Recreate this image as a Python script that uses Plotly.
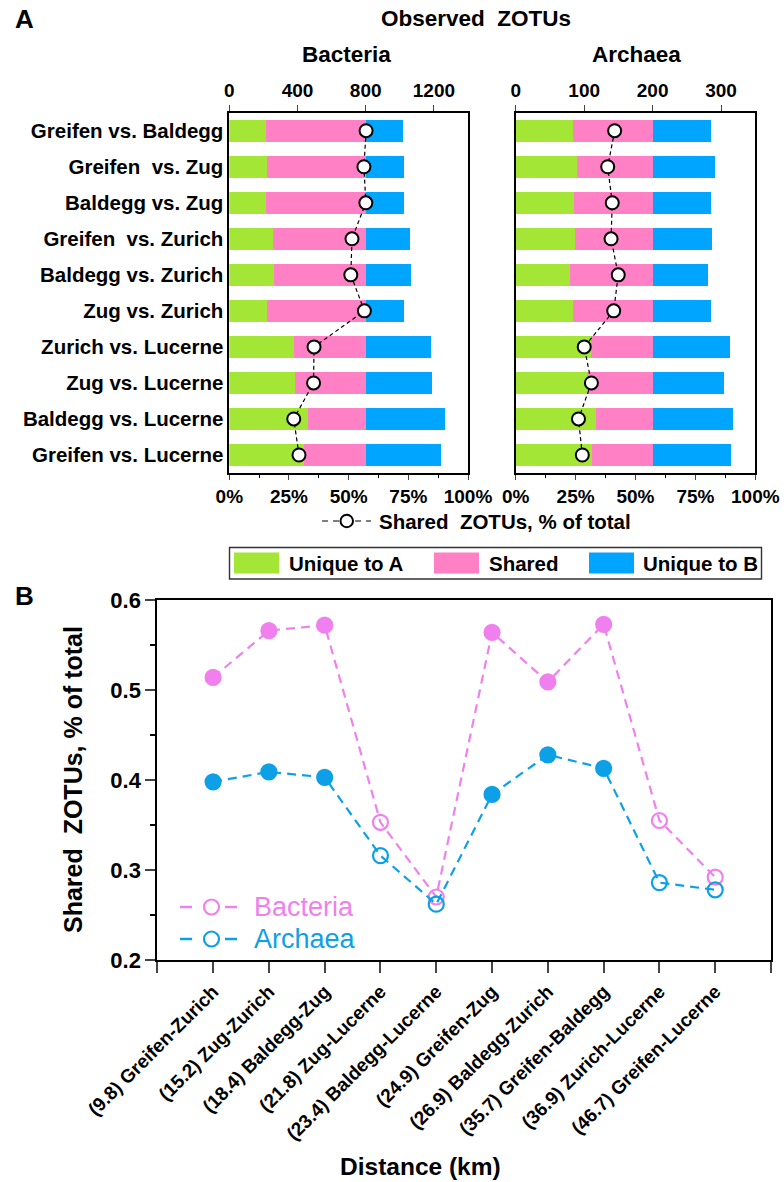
import plotly.graph_objects as go

W, H = 784, 1182

# ---------------- data ----------------
pairs_A = ["Greifen vs. Baldegg", "Greifen\u00a0 vs. Zug", "Baldegg vs. Zug",
           "Greifen\u00a0 vs. Zurich", "Baldegg vs. Zurich", "Zug vs. Zurich",
           "Zurich vs. Lucerne", "Zug vs. Lucerne", "Baldegg vs. Lucerne",
           "Greifen vs. Lucerne"]

# Observed ZOTUs (counts) per pair
bac_uniqueA = [215, 223, 215, 254, 260, 221, 379, 383, 463, 441]
bac_shared = [585, 577, 585, 546, 540, 579, 421, 417, 337, 359]
bac_uniqueB = [221, 227, 223, 262, 264, 227, 383, 387, 467, 444]

arc_uniqueA = [83, 89, 85, 86, 80, 84, 110, 104, 117, 112]
arc_shared = [117, 111, 115, 114, 120, 116, 90, 96, 83, 88]
arc_uniqueB = [85, 91, 86, 87, 81, 85, 113, 105, 118, 114]

# Panel B: pairs ordered by distance
dist_labels = ["(9.8) Greifen-Zurich", "(15.2) Zug-Zurich", "(18.4) Baldegg-Zug",
               "(21.8) Zug-Lucerne", "(23.4) Baldegg-Lucerne", "(24.9) Greifen-Zug",
               "(26.9) Baldegg-Zurich", "(35.7) Greifen-Baldegg", "(36.9) Zurich-Lucerne",
               "(46.7) Greifen-Lucerne"]
bac_frac = [0.514, 0.566, 0.572, 0.353, 0.270, 0.564, 0.509, 0.573, 0.355, 0.292]
arc_frac = [0.398, 0.409, 0.403, 0.316, 0.262, 0.384, 0.428, 0.413, 0.286, 0.278]

# index into panel-B order for each panel-A row
a_to_b = [7, 5, 2, 0, 6, 1, 8, 3, 4, 9]

bac_count_ticks = [0, 400, 800, 1200]
arc_count_ticks = [0, 100, 200, 300]
pct_ticks = [0, 25, 50, 75, 100]
pct_text = ["0%", "25%", "50%", "75%", "100%"]
fracB_ticks = [0.2, 0.3, 0.4, 0.5, 0.6]

# ---------------- style ----------------
GREEN = "#A3E635"
PINK = "#FF80C5"
BLUE = "#00A5FF"
VIOLET = "#F080EE"
SKY = "#0EA0E6"
FONT = "Liberation Sans, Arial, sans-serif"


def px(x):
    return x / W


def py(y):
    return 1 - y / H


bac_pct_A = [bac_frac[i] * 100 for i in a_to_b]
arc_pct_A = [arc_frac[i] * 100 for i in a_to_b]

fig = go.Figure()

# Panel A bars
for (xa, ya, uA, sh, uB) in [("x", "y", bac_uniqueA, bac_shared, bac_uniqueB),
                             ("x3", "y2", arc_uniqueA, arc_shared, arc_uniqueB)]:
    for vals, col in [(uA, GREEN), (sh, PINK), (uB, BLUE)]:
        fig.add_trace(go.Bar(y=pairs_A, x=vals, orientation="h", width=0.61,
                             marker=dict(color=col, line=dict(width=0)),
                             xaxis=xa, yaxis=ya, showlegend=False))

for (xa, ya, vals) in [("x2", "y", bac_pct_A), ("x4", "y2", arc_pct_A)]:
    fig.add_trace(go.Scatter(y=pairs_A, x=vals, mode="lines+markers",
                             line=dict(color="black", width=1.2, dash="4px,3px"),
                             marker=dict(size=13, color="white",
                                         line=dict(color="black", width=2)),
                             xaxis=xa, yaxis=ya, showlegend=False))

# Panel B
xpos = list(range(1, len(dist_labels) + 1))
symbols = ["circle-open" if "Lucerne" in s else "circle" for s in dist_labels]
for vals, col in [(bac_frac, VIOLET), (arc_frac, SKY)]:
    fig.add_trace(go.Scatter(x=xpos, y=vals, mode="lines+markers",
                             line=dict(color=col, width=2.2, dash="9px,6px"),
                             marker=dict(size=15, symbol=symbols, color=col,
                                         line=dict(color=col, width=2.2)),
                             xaxis="x5", yaxis="y3", showlegend=False))

# ---------------- axes ----------------
bx = [px(229.3), px(468)]
ax_ = [px(515.7), px(755.3)]
ay = [py(473), py(112.7)]

tickfA = dict(family=FONT, size=19, color="black", weight="bold")
line_kw = dict(showline=True, linecolor="black", linewidth=1.6, showgrid=False,
               zeroline=False, automargin=False)
minor_pct = dict(tickvals=[12.5, 37.5, 62.5, 87.5], ticks="outside",
                 ticklen=3, tickwidth=1.2, tickcolor="black")

fig.update_layout(
    xaxis=dict(domain=bx, anchor="y", side="top", range=[0, 1400],
               tickvals=bac_count_ticks, ticks="outside", ticklen=6, tickwidth=1.4,
               tickfont=tickfA, **line_kw),
    xaxis2=dict(domain=bx, anchor="y", overlaying="x", side="bottom", range=[0, 100],
                tickvals=pct_ticks, ticktext=pct_text, ticks="outside", ticklen=5,
                tickwidth=1.4, tickfont=tickfA, minor=minor_pct, **line_kw),
    yaxis=dict(domain=ay, anchor="x", type="category", categoryarray=pairs_A,
               range=[9.5, -0.5], ticks="", mirror=True,
               tickfont=dict(family=FONT, size=20.5, color="black", weight="bold"),
               **line_kw),
    xaxis3=dict(domain=ax_, anchor="y2", side="top", range=[0, 350],
                tickvals=arc_count_ticks, ticks="outside", ticklen=6, tickwidth=1.4,
                tickfont=tickfA, **line_kw),
    xaxis4=dict(domain=ax_, anchor="y2", overlaying="x3", side="bottom", range=[0, 100],
                tickvals=pct_ticks, ticktext=pct_text, ticks="outside", ticklen=5,
                tickwidth=1.4, tickfont=tickfA, minor=minor_pct, **line_kw),
    yaxis2=dict(domain=ay, anchor="x3", type="category", categoryarray=pairs_A,
                range=[9.5, -0.5], ticks="", mirror=True, showticklabels=False,
                **line_kw),
    xaxis5=dict(domain=[px(157.3), px(771)], anchor="y3", range=[0, 11],
                tickvals=list(range(0, 12)),
                ticktext=[""] + dist_labels + [""],
                tickangle=-45, ticks="outside", ticklen=11, tickwidth=1.8,
                mirror=True, showline=True, linecolor="black", linewidth=2,
                showgrid=False, zeroline=False, automargin=False,
                tickfont=dict(family=FONT, size=19, color="black", weight="bold")),
    yaxis3=dict(domain=[py(960), py(600)], anchor="x5", range=[0.2, 0.6],
                tickvals=fracB_ticks, tickformat=".1f", ticks="outside", ticklen=10,
                tickwidth=1.8, mirror=True, showline=True, linecolor="black",
                linewidth=2, showgrid=False, zeroline=False, automargin=False,
                minor=dict(tickvals=[0.25, 0.35, 0.45, 0.55], ticks="outside",
                           ticklen=5, tickwidth=1.6, tickcolor="black"),
                tickfont=dict(family=FONT, size=22, color="black", weight="bold")),
    barmode="stack",
    width=W, height=H,
    margin=dict(l=0, r=0, t=0, b=0, autoexpand=False),
    paper_bgcolor="white", plot_bgcolor="white",
    showlegend=False,
)

# ---------------- annotations ----------------
def ann(text, x, y, size, xanchor="center", color="black", bold=True, angle=0):
    fig.add_annotation(text=text, x=px(x), y=py(y), xref="paper", yref="paper",
                       showarrow=False, xanchor=xanchor, yanchor="middle",
                       textangle=angle,
                       font=dict(family=FONT, size=size, color=color,
                                 weight="bold" if bold else "normal"))


ann("A", 13, 19, 26, xanchor="left")
ann("B", 13, 596, 26, xanchor="left")
ann("Observed\u00a0 ZOTUs", 476, 18, 22.5)
ann("Bacteria", 346, 54, 22.5)
ann("Archaea", 636, 54, 22.5)
ann("Shared\u00a0 ZOTUs, % of total", 377, 521, 20.5, xanchor="left")
ann("Shared\u00a0 ZOTUs, % of total", 73, 780, 25, angle=-90)
ann("Distance (km)", 420, 1166, 24.5)

shapes = []
# "Shared ZOTUs" legend symbol
shapes.append(dict(type="line", xref="paper", yref="paper", x0=px(322), x1=px(371),
                   y0=py(521), y1=py(521), line=dict(color="black", width=1.2, dash="6px,5px")))
shapes.append(dict(type="circle", xref="paper", yref="paper", x0=px(340.5), x1=px(353),
                   y0=py(527.2), y1=py(514.8), fillcolor="white",
                   line=dict(color="black", width=2)))

# Bar legend box
shapes.append(dict(type="rect", xref="paper", yref="paper", x0=px(229.5), x1=px(761.5),
                   y0=py(579), y1=py(547.5), line=dict(color="#333333", width=1.4)))
for (x0, x1, col, label, tx) in [(234, 279, GREEN, "Unique to A", 287),
                                 (434, 479, PINK, "Shared", 487),
                                 (589, 634, BLUE, "Unique to B", 641)]:
    shapes.append(dict(type="rect", xref="paper", yref="paper", x0=px(x0), x1=px(x1),
                       y0=py(573.5), y1=py(552.5), fillcolor=col, line=dict(width=0)))
    ann(label, tx, 563.5, 20.5, xanchor="left")

# Panel B legend
for (yc, col, label) in [(907, VIOLET, "Bacteria"), (939, SKY, "Archaea")]:
    shapes.append(dict(type="line", xref="paper", yref="paper", x0=px(180), x1=px(192),
                       y0=py(yc), y1=py(yc), line=dict(color=col, width=2.5)))
    shapes.append(dict(type="line", xref="paper", yref="paper", x0=px(225), x1=px(237),
                       y0=py(yc), y1=py(yc), line=dict(color=col, width=2.5)))
    shapes.append(dict(type="circle", xref="paper", yref="paper", x0=px(204), x1=px(219),
                       y0=py(yc + 7.5), y1=py(yc - 7.5), fillcolor="white",
                       line=dict(color=col, width=2.2)))
    ann(label, 252, yc, 27, xanchor="left", color=col, bold=False)

fig.update_layout(shapes=shapes)

fig.write_html("out.html", config={"displayModeBar": False},
               post_script="document.body.style.margin='0';document.body.style.overflow='hidden';")
